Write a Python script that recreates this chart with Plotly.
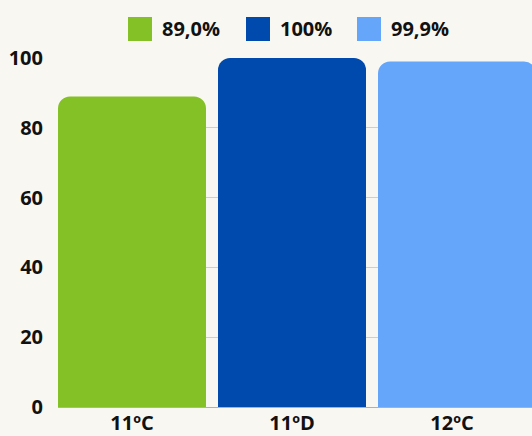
import plotly.graph_objects as go

# ---- data ----
categories = ["11ºC", "11ºD", "12ºC"]
values = [89.0, 100.0, 99.0]
legend_labels = ["89,0%", "100%", "99,9%"]
y_ticks = [0, 20, 40, 60, 80, 100]

# ---- style ----
colors = ["#84c126", "#004aad", "#66a6fa"]
bar_widths = [0.925, 0.925, 0.9875]   # last bar runs off the right edge (cropped chart)
bg = "#f8f7f1"
text_color = "#111111"
FS = 20
W, H = 532, 436
ML, MR, MT, MB = 58, 0, 58, 29
PW, PH = W - ML - MR, H - MT - MB


def px(x):
    return (x - ML) / PW


def py(y):
    return (H - MB - y) / PH


fig = go.Figure()
for cat, val, col, lab, bw in zip(categories, values, colors, legend_labels, bar_widths):
    fig.add_trace(go.Bar(
        x=[cat], y=[val], name=lab, width=bw, offset=-0.4625,
        marker=dict(color=col, cornerradius=12, line=dict(width=0)),
        showlegend=False, hoverinfo="x+y",
    ))

# custom legend (big square swatches)
legend_x = [128, 246, 357]
sq = 24
shapes = []
annotations = []
for lx, col, lab in zip(legend_x, colors, legend_labels):
    shapes.append(dict(type="rect", xref="paper", yref="paper",
                       x0=px(lx), x1=px(lx + sq), y0=py(17 + sq), y1=py(17),
                       fillcolor=col, line=dict(width=0)))
    annotations.append(dict(xref="paper", yref="paper", x=px(lx + sq + 8), y=py(29),
                            xanchor="left", yanchor="middle", text=lab, showarrow=False,
                            font=dict(family="Open Sans", size=FS, color=text_color, weight="bold")))

fig.update_layout(
    width=W, height=H,
    margin=dict(l=ML, r=MR, t=MT, b=MB, pad=0),
    paper_bgcolor=bg, plot_bgcolor=bg,
    barmode="overlay",
    font=dict(family="Open Sans", size=FS, color=text_color, weight="bold"),
    shapes=shapes, annotations=annotations,
    showlegend=False,
    xaxis=dict(type="category", range=[-0.4625, 2.5], showgrid=False, zeroline=False,
               showline=False, ticks="", ticklabelstandoff=2,
               tickfont=dict(family="Open Sans", size=FS, color=text_color, weight="bold")),
    yaxis=dict(range=[0, 100], tickvals=y_ticks, showgrid=True, gridcolor="#cfcfcf",
               gridwidth=1, zeroline=True, zerolinecolor="#b0b0b0", zerolinewidth=1,
               showline=False, ticks="", ticklabelstandoff=14,
               tickfont=dict(family="Open Sans", size=FS, color=text_color, weight="bold")),
)

fig.write_html("out.html", config={"displayModeBar": False},
               post_script="document.body.style.margin='0';document.body.style.background='%s';" % bg)
